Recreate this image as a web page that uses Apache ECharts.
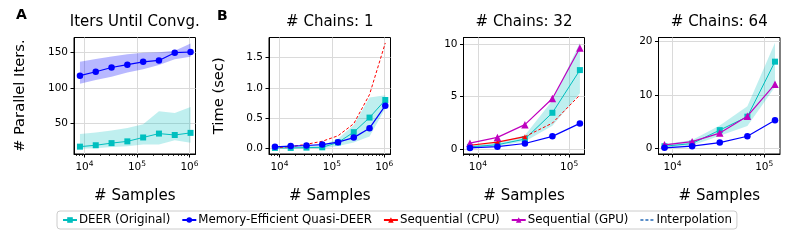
<!DOCTYPE html>
<html>
<head>
<meta charset="utf-8">
<script src="https://cdn.jsdelivr.net/npm/echarts@6/dist/echarts.min.js"></script>
<style>html,body{margin:0;padding:0;background:#fff}#c{width:794px;height:247px}</style>
</head>
<body>
<div id="c"></div>
<script>
// ---------------- data ----------------
const samplesLarge = [8192, 16384, 32768, 65536, 131072, 262144, 524288, 1048576];
const samplesSmall = [8192, 16384, 32768, 65536, 131072];

// Panel A: parallel iterations until convergence
const itersDeer   = [17, 19, 22, 24.5, 30, 35.5, 33.5, 36.5];
const itersDeerLo = [14, 14.8, 16.5, 17.6, 20, 20, 26, 22.4];
const itersDeerHi = [35, 37, 40, 43.5, 48.6, 67, 64.6, 73];
const itersQ      = [117.5, 123, 129, 133, 137, 139, 150, 151];
const itersQLo    = [106, 111.5, 116, 121.8, 126.6, 132.7, 140.7, 144.4];
const itersQHi    = [137, 141, 144.5, 147.7, 150, 150.5, 152.8, 163];

// Panel B, 1 chain
const t1Deer   = [0.01, 0.01, 0.015, 0.02, 0.1, 0.27, 0.51, 0.80];
const t1DeerLo = [0, 0, 0, 0, 0.04, 0.1, 0.2, 0.66];
const t1DeerHi = [0.03, 0.03, 0.04, 0.05, 0.16, 0.39, 0.84, 0.88];
const t1Q      = [0.028, 0.04, 0.05, 0.066, 0.105, 0.18, 0.336, 0.707];
const t1Cpu    = [0.015, 0.03, 0.07, 0.12, 0.21, 0.41, 0.89, 1.74];

// Panel B, 32 chains
const t32Deer   = [0.2, 0.4, 0.94, 3.44, 7.5];
const t32DeerLo = [0.1, 0.3, 0.7, 2.2, 5.3];
const t32DeerHi = [0.35, 0.6, 1.3, 4.6, 10.1];
const t32Q      = [0.1, 0.22, 0.52, 1.2, 2.43];
const t32Cpu    = [0.35, 0.65, 1.17, 2.46, 5.13];
const t32CpuMeasured = 3; // first points measured, rest interpolated
const t32Gpu    = [0.55, 1.1, 2.31, 4.8, 9.6];

// Panel B, 64 chains
const t64Deer   = [0.45, 0.95, 3.45, 5.95, 16.2];
const t64DeerLo = [0.1, 0.6, 2.4, 4.2, 11.5];
const t64DeerHi = [0.8, 1.6, 4.3, 7.9, 19.7];
const t64Q      = [0.15, 0.45, 1.12, 2.3, 5.3];
const t64Gpu    = [0.7, 1.3, 2.9, 6.05, 12.0];

// tick labels
const xMajorExp = [4, 5, 6];
const yTicksA  = [50, 100, 150];
const yTicks1  = [0, 0.5, 1.0, 1.5];
const yTicks32 = [0, 5, 10];
const yTicks64 = [0, 10, 20];

const names = ['DEER (Original)', 'Memory-Efficient Quasi-DEER', 'Sequential (CPU)', 'Sequential (GPU)', 'Interpolation'];

// ---------------- styles ----------------
const FONT = 'DejaVu Sans';
const C_DEER = '#00bfbf', C_Q = '#0000ff', C_CPU = '#ff0000', C_GPU = '#bf00bf', C_INT = '#5b8fc9';

const grids = [
  {left: 74,    top: 37.5, width: 121.5, height: 116.5},
  {left: 269,   top: 37.5, width: 121.5, height: 116.5},
  {left: 463.5, top: 37.5, width: 121,   height: 116.5},
  {left: 658.5, top: 37.5, width: 121.5, height: 116.5}
];
const xRanges = [[3.80, 6.115], [3.80, 6.12], [3.843, 5.168], [3.848, 5.172]];
const yRanges = [[6.6, 171.5], [-0.09, 1.83], [-0.48, 10.6], [-1.0, 20.7]];
const yTickSets = [yTicksA, yTicks1, yTicks32, yTicks64];
const yNames = ['# Parallel Iters.', 'Time (sec)', '', ''];

function log10(v){ return Math.log(v) / Math.LN10; }
function minorVals(r){
  const out = [];
  for (let e = 3; e <= 6; e++) for (let m = 2; m <= 9; m++) {
    const v = log10(m * Math.pow(10, e));
    if (v >= r[0] && v <= r[1]) out.push(v);
  }
  return out;
}

const xAxes = [], yAxes = [];
grids.forEach((g, i) => {
  xAxes.push({
    gridIndex: i, type: 'value', position: 'bottom', min: xRanges[i][0], max: xRanges[i][1],
    axisLine: {show: true, onZero: false, lineStyle: {color: '#000', width: 1}},
    axisTick: {show: true, length: 3.5, customValues: xMajorExp, lineStyle: {color: '#000', width: 1}},
    axisLabel: {
      customValues: xMajorExp, margin: 6, color: '#000', fontFamily: FONT,
      formatter: v => '{b|10}{s|' + Math.round(v) + '}',
      rich: {b: {fontSize: 10.5, fontFamily: FONT, color: '#000'},
             s: {fontSize: 7.5, fontFamily: FONT, color: '#000', padding: [0, 0, 6, 0]}}
    },
    splitLine: {show: true, lineStyle: {color: '#dadada', width: 1}},
    name: '# Samples', nameLocation: 'middle', nameGap: 35,
    nameTextStyle: {fontSize: 15, color: '#000', fontFamily: FONT}
  });
  yAxes.push({
    gridIndex: i, type: 'value', min: yRanges[i][0], max: yRanges[i][1],
    axisLine: {show: true, onZero: false, lineStyle: {color: '#000', width: 1}},
    axisTick: {show: true, length: 3.5, customValues: yTickSets[i], lineStyle: {color: '#000', width: 1}},
    axisLabel: {customValues: yTickSets[i], margin: 6, fontSize: 10.5, color: '#000', fontFamily: FONT,
      formatter: v => (i === 1 ? v.toFixed(1) : String(v))},
    splitLine: {show: true, lineStyle: {color: '#dadada', width: 1}},
    name: yNames[i], nameLocation: 'middle', nameGap: i === 0 ? 46.5 : 42,
    nameTextStyle: {fontSize: 14.7, color: '#000', fontFamily: FONT}
  });
});
// minor tick axes
grids.forEach((g, i) => {
  xAxes.push({
    gridIndex: i, type: 'value', position: 'bottom', min: xRanges[i][0], max: xRanges[i][1],
    axisLine: {show: false, onZero: false},
    axisTick: {show: true, length: 2, customValues: minorVals(xRanges[i]), lineStyle: {color: '#000', width: 0.8}},
    axisLabel: {show: false}, splitLine: {show: false}
  });
});

function pts(xs, ys){ return ys.map((y, k) => [log10(xs[k]), y]); }

const series = [];
function band(idx, xs, lo, hi, color, op){
  series.push({
    type: 'custom', name: 'band', xAxisIndex: idx, yAxisIndex: idx, silent: true, z: 1,
    data: xs.map((x, k) => [log10(x), lo[k], hi[k]]),
    encode: {x: 0, y: [1, 2]},
    renderItem: function (params, api) {
      if (params.dataIndex !== 0) return null;
      const n = params.dataInsideLength;
      const top = [], bot = [];
      for (let k = 0; k < n; k++) {
        top.push(api.coord([api.value(0, k), api.value(2, k)]));
        bot.push(api.coord([api.value(0, k), api.value(1, k)]));
      }
      return {type: 'polygon', shape: {points: top.concat(bot.reverse())},
              style: {fill: color, opacity: op}};
    }
  });
}
function line(idx, xs, ys, name, color, symbol, size, width, z, dashed){
  series.push({type: 'line', name: name, xAxisIndex: idx, yAxisIndex: idx, data: pts(xs, ys),
    symbol: symbol, symbolSize: size, showSymbol: symbol !== 'none',
    itemStyle: {color: color}, lineStyle: {color: color, width: width, type: dashed ? [3, 2] : 'solid'},
    z: z, animation: false});
}

// Panel B2 first (so the measured CPU style defines the legend entry)
band(2, samplesSmall, t32DeerLo, t32DeerHi, C_DEER, 0.25);
line(2, samplesSmall, t32Deer, names[0], C_DEER, 'rect', 6, 1, 3);
line(2, samplesSmall, t32Q, names[1], C_Q, 'circle', 6.5, 1.2, 6);
line(2, samplesSmall.slice(0, t32CpuMeasured), t32Cpu.slice(0, t32CpuMeasured), names[2], C_CPU, 'triangle', 5, 1.2, 4);
line(2, samplesSmall.slice(t32CpuMeasured - 1), t32Cpu.slice(t32CpuMeasured - 1), names[2], C_CPU, 'none', 0, 1, 4, true);
line(2, samplesSmall, t32Gpu, names[3], C_GPU, 'triangle', 7.5, 1.2, 5);

// Panel A
band(0, samplesLarge, itersQLo, itersQHi, C_Q, 0.28);
band(0, samplesLarge, itersDeerLo, itersDeerHi, C_DEER, 0.25);
line(0, samplesLarge, itersDeer, names[0], C_DEER, 'rect', 6, 1, 3);
line(0, samplesLarge, itersQ, names[1], C_Q, 'circle', 6.5, 1.2, 6);

// Panel B1
band(1, samplesLarge, t1DeerLo, t1DeerHi, C_DEER, 0.25);
line(1, samplesLarge, t1Cpu, names[2], C_CPU, 'none', 0, 1, 4, true);
line(1, samplesLarge, t1Deer, names[0], C_DEER, 'rect', 6, 1, 3);
line(1, samplesLarge, t1Q, names[1], C_Q, 'circle', 6.5, 1.2, 6);

// Panel B3
band(3, samplesSmall, t64DeerLo, t64DeerHi, C_DEER, 0.25);
line(3, samplesSmall, t64Deer, names[0], C_DEER, 'rect', 6, 1, 3);
line(3, samplesSmall, t64Gpu, names[3], C_GPU, 'triangle', 7.5, 1.2, 5);
line(3, samplesSmall, t64Q, names[1], C_Q, 'circle', 6.5, 1.2, 6);

// legend-only entry for interpolation style
series.push({type: 'line', name: names[4], xAxisIndex: 0, yAxisIndex: 0, data: [], symbol: 'none',
  itemStyle: {color: C_INT}, lineStyle: {color: C_INT, width: 1, type: [3, 2]}});

const titleStyle = {fontSize: 15, fontWeight: 'normal', color: '#000', fontFamily: FONT};
const centers = grids.map(g => g.left + g.width / 2);
const panelTitles = ['Iters Until Convg.', '# Chains: 1', '# Chains: 32', '# Chains: 64'];
const titles = [
  {text: 'A', left: 16, top: 8, padding: 0, textStyle: {fontSize: 14, fontWeight: 'bold', color: '#000', fontFamily: FONT}},
  {text: 'B', left: 217, top: 9, padding: 0, textStyle: {fontSize: 14, fontWeight: 'bold', color: '#000', fontFamily: FONT}}
].concat(panelTitles.map((t, i) => ({text: t, left: centers[i], top: 14.5, padding: 0, textAlign: 'center', textStyle: titleStyle})));

const chart = echarts.init(document.getElementById('c'), null, {renderer: 'canvas', width: 794, height: 247});
chart.setOption({
  animation: false,
  backgroundColor: '#fff',
  textStyle: {fontFamily: FONT},
  title: titles,
  grid: grids.map(g => Object.assign({show: true, borderColor: '#000', borderWidth: 1, backgroundColor: 'transparent', containLabel: false}, g)),
  xAxis: xAxes,
  yAxis: yAxes,
  legend: {
    data: names.map(n => n === names[4] ? {name: n, itemStyle: {opacity: 0}} : {name: n}),
    left: 57, top: 211, padding: [3, 5], itemGap: 11, itemWidth: 14, itemHeight: 7,
    borderColor: '#cccccc', borderWidth: 1, borderRadius: 3, backgroundColor: '#fff',
    textStyle: {fontSize: 11.8, color: '#000', fontFamily: FONT, padding: [0, 0, 0, -3]}
  },
  series: series
});
</script>
</body>
</html>
